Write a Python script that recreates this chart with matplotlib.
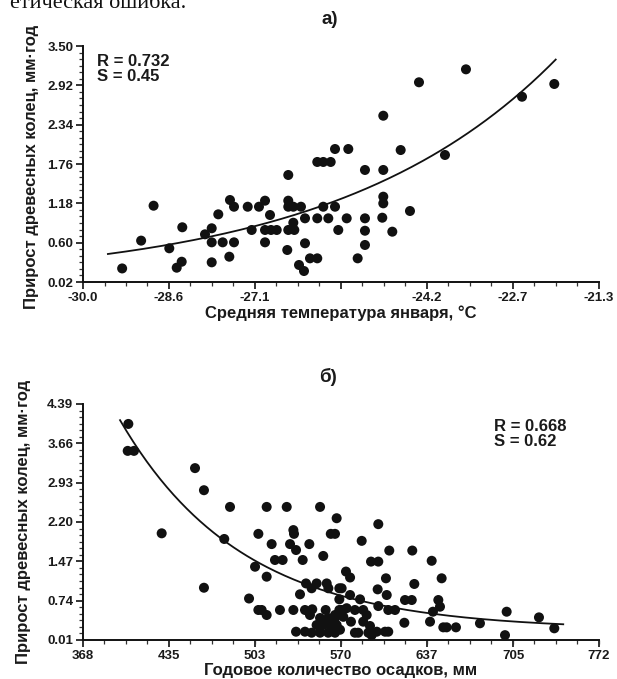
import numpy as np
import matplotlib
matplotlib.use("Agg")
import matplotlib.pyplot as plt
from matplotlib.ticker import AutoMinorLocator, FixedLocator, FixedFormatter

plt.rcParams['font.family'] = ['Liberation Sans', 'DejaVu Sans']
plt.rcParams['font.weight'] = 'bold'

# ---------------- panel a) data ----------------
temp_x = [-29.34, -29.02, -28.81, -28.545, -28.42, -28.336, -28.326, -27.943, -27.83, -27.83,
          -27.83, -27.719, -27.645, -27.533, -27.522, -27.454, -27.454, -27.223, -27.156, -27.033,
          -26.931, -26.931, -26.931, -26.847, -26.83, -26.734, -26.539, -26.539, -26.539, -26.539,
          -26.556, -26.454, -26.454, -26.437, -26.325, -26.358, -26.274, -26.257, -26.257, -26.173,
          -26.05, -26.05, -26.05, -25.949, -25.949, -25.864, -25.824, -25.751, -25.751, -25.696,
          -25.527, -25.554, -25.246, -25.246, -25.246, -25.246, -25.369, -24.937, -24.937, -24.937,
          -24.937, -24.954, -24.785, -24.644, -24.487, -24.335, -23.897, -23.543, -22.598, -22.054]
temp_y = [0.22, 0.63, 1.145, 0.517, 0.231, 0.319, 0.827, 0.723, 0.812, 0.605,
          0.31, 1.018, 0.605, 0.393, 1.229, 1.13, 0.605, 1.13, 0.787, 1.13,
          1.219, 0.787, 0.605, 1.008, 0.787, 0.787, 1.598, 1.219, 1.13, 0.787,
          0.492, 1.13, 0.894, 0.787, 1.13, 0.271, 0.182, 0.959, 0.591, 0.369,
          1.79, 0.369, 0.959, 1.79, 1.13, 0.959, 1.79, 1.981, 1.13, 0.787,
          1.981, 0.959, 1.672, 0.959, 0.776, 0.566, 0.369, 2.472, 1.672, 1.278,
          1.18, 0.968, 0.762, 1.966, 1.067, 2.965, 1.893, 3.156, 2.752, 2.94]
# exponential fit y = a*exp(b*(x - x0))
fit_a_x0 = -29.58
fit_a_coef = 0.433
fit_a_rate = 0.269
fit_a_xend = -22.03

a_xticks = [-30.0, -28.55, -27.1, -25.65, -24.2, -22.75, -21.3]
a_xticklabels = ['-30.0', '-28.6', '-27.1', '', '-24.2', '-22.7', '-21.3']
a_yticks = [0.02, 0.60, 1.18, 1.76, 2.34, 2.92, 3.50]
a_yticklabels = ['0.02', '0.60', '1.18', '1.76', '2.34', '2.92', '3.50']

# ---------------- panel б) data ----------------
prec_x = [403.5, 403.0, 407.9, 455.7, 462.7, 429.6, 462.7, 483.1, 478.6, 498.0,
          502.7, 505.3, 511.8, 511.8, 505.3, 511.8, 515.7, 518.3, 524.3, 522.2,
          527.5, 530.1, 532.7, 533.2, 534.8, 540.0, 545.2, 537.9, 532.7, 534.8,
          541.8, 542.6, 547.0, 550.9, 541.8, 545.7, 553.6, 556.1, 558.0, 558.8,
          560.1, 562.0, 566.6, 565.3, 568.7, 568.7, 507.9, 547.5, 565.3, 568.7,
          547.0, 553.6, 560.0, 565.3, 550.9, 556.1, 561.4, 566.6, 553.6, 560.0,
          565.3, 599.2, 586.2, 607.8, 625.8, 641.0, 593.5, 599.2, 573.9, 577.1,
          605.2, 627.4, 570.5, 598.7, 577.1, 584.9, 605.8, 620.1, 625.4, 599.2,
          607.0, 612.3, 642.0, 570.5, 574.4, 580.9, 587.4, 590.1, 571.8, 569.2,
          577.8, 587.4, 592.7, 619.6, 639.7, 580.9, 583.5, 591.4, 594.0, 598.0,
          604.5, 607.0, 648.8, 646.2, 647.5, 650.1, 652.7, 660.0, 678.8, 699.7,
          698.4, 725.0, 737.0]
prec_y = [4.02, 3.52, 3.52, 3.20, 2.79, 1.99, 0.98, 2.48, 1.885, 0.78,
          1.37, 1.98, 2.48, 1.185, 0.567, 0.474, 1.79, 1.495, 1.495, 0.567,
          2.48, 1.79, 2.05, 1.98, 1.68, 1.495, 1.79, 0.858, 0.567, 0.164,
          0.164, 1.06, 0.97, 1.06, 0.567, 0.474, 2.48, 1.57, 0.567, 1.06,
          0.97, 1.98, 2.27, 1.98, 0.97, 0.765, 0.567, 0.58, 0.474, 0.567,
          0.145, 0.145, 0.145, 0.145, 0.288, 0.288, 0.288, 0.288, 0.418, 0.418,
          0.418, 2.16, 1.85, 1.67, 1.67, 1.48, 1.465, 1.465, 1.28, 1.17,
          1.155, 1.05, 0.97, 0.95, 0.845, 0.765, 0.845, 0.752, 0.752, 0.64,
          0.567, 0.567, 0.535, 0.567, 0.60, 0.567, 0.567, 0.474, 0.44, 0.20,
          0.35, 0.35, 0.27, 0.33, 0.35, 0.145, 0.145, 0.145, 0.10, 0.164,
          0.164, 0.164, 1.155, 0.752, 0.628, 0.245, 0.245, 0.245, 0.32, 0.535,
          0.10, 0.43, 0.227]
# fit y = c + a*exp(-k*(x - x0))
fit_b_x0 = 397.0
fit_b_const = 0.2
fit_b_coef = 3.89
fit_b_rate = 0.0105
fit_b_xend = 744.0

b_xticks = [368.0, 435.33, 502.67, 570.0, 637.33, 704.67, 772.0]
b_xticklabels = ['368', '435', '503', '570', '637', '705', '772']
b_yticks = [0.01, 0.74, 1.47, 2.20, 2.93, 3.66, 4.39]
b_yticklabels = ['0.01', '0.74', '1.47', '2.20', '2.93', '3.66', '4.39']

W, H = 617, 679
fig = plt.figure(figsize=(W / 100, H / 100), dpi=100)
TXT = '#1a1a1a'


def style_axes(ax, xt, xtl, yt, ytl):
    for s in ['top', 'right']:
        ax.spines[s].set_visible(False)
    for s in ['left', 'bottom']:
        ax.spines[s].set_linewidth(1.4)
        ax.spines[s].set_color('#111111')
    ax.set_xlim(xt[0], xt[-1])
    ax.set_ylim(yt[0], yt[-1])
    ax.xaxis.set_major_locator(FixedLocator(xt))
    ax.xaxis.set_major_formatter(FixedFormatter(xtl))
    ax.yaxis.set_major_locator(FixedLocator(yt))
    ax.yaxis.set_major_formatter(FixedFormatter(ytl))
    ax.xaxis.set_minor_locator(AutoMinorLocator(4))
    ax.yaxis.set_minor_locator(AutoMinorLocator(6))
    ax.tick_params(which='major', direction='out', length=5, width=1.2, color='#111111',
                   labelsize=9.5, pad=2)
    ax.tick_params(which='minor', direction='out', length=3, width=0.9, color='#333333')
    for lab in ax.get_xticklabels() + ax.get_yticklabels():
        lab.set_fontweight('bold')
        lab.set_color(TXT)
    ax.set_facecolor('white')


# ---- panel a ----
ax1 = fig.add_axes([83 / W, 1 - 282 / H, 516 / W, 236 / H])
style_axes(ax1, a_xticks, a_xticklabels, a_yticks, a_yticklabels)
ax1.scatter(temp_x, temp_y, s=52, color='#111111', edgecolors='none', zorder=3, clip_on=False)
xa = np.linspace(fit_a_x0, fit_a_xend, 200)
ax1.plot(xa, fit_a_coef * np.exp(fit_a_rate * (xa - fit_a_x0)), color='#111111', lw=1.3, zorder=4)
ax1.text(0.027, 0.965, 'R = 0.732\nS = 0.45', transform=ax1.transAxes, fontsize=12,
         fontweight='bold', va='top', ha='left', linespacing=1.0, color=TXT)
ax1.set_xlabel('Средняя температура января, °C', fontsize=12, fontweight='bold',
               labelpad=1, color=TXT)
fig.text(32 / W, 1 - 167 / H, 'Прирост древесных колец, мм·год', rotation=90,
         fontsize=12, fontweight='bold', ha='center', va='center', color=TXT)
fig.text(330 / W, 1 - 20 / H, 'а)', fontsize=13.5, fontweight='bold', ha='center', va='center',
         color=TXT)

# ---- panel b ----
ax2 = fig.add_axes([83 / W, 1 - 640 / H, 516 / W, 236 / H])
style_axes(ax2, b_xticks, b_xticklabels, b_yticks, b_yticklabels)
ax2.scatter(prec_x, prec_y, s=52, color='#111111', edgecolors='none', zorder=3, clip_on=False)
xb = np.linspace(fit_b_x0, fit_b_xend, 200)
ax2.plot(xb, fit_b_const + fit_b_coef * np.exp(-fit_b_rate * (xb - fit_b_x0)),
         color='#111111', lw=1.3, zorder=4)
ax2.text(0.797, 0.935, 'R = 0.668\nS = 0.62', transform=ax2.transAxes, fontsize=12,
         fontweight='bold', va='top', ha='left', linespacing=1.0, color=TXT)
ax2.set_xlabel('Годовое количество осадков, мм', fontsize=12, fontweight='bold',
               labelpad=1, color=TXT)
fig.text(24 / W, 1 - 522 / H, 'Прирост древесных колец, мм·год', rotation=90,
         fontsize=12, fontweight='bold', ha='center', va='center', color=TXT)
fig.text(328 / W, 1 - 377 / H, 'б)', fontsize=13.5, fontweight='bold', ha='center', va='center',
         color=TXT)

# cropped line of document text at the very top
fig.text(10 / W, 1 - 3 / H, 'етическая ошибка.', fontsize=16, fontweight='normal',
         family=['Liberation Serif', 'DejaVu Serif'], ha='left', va='center', color='#111111')

fig.savefig('out.png', dpi=100, facecolor='white')
